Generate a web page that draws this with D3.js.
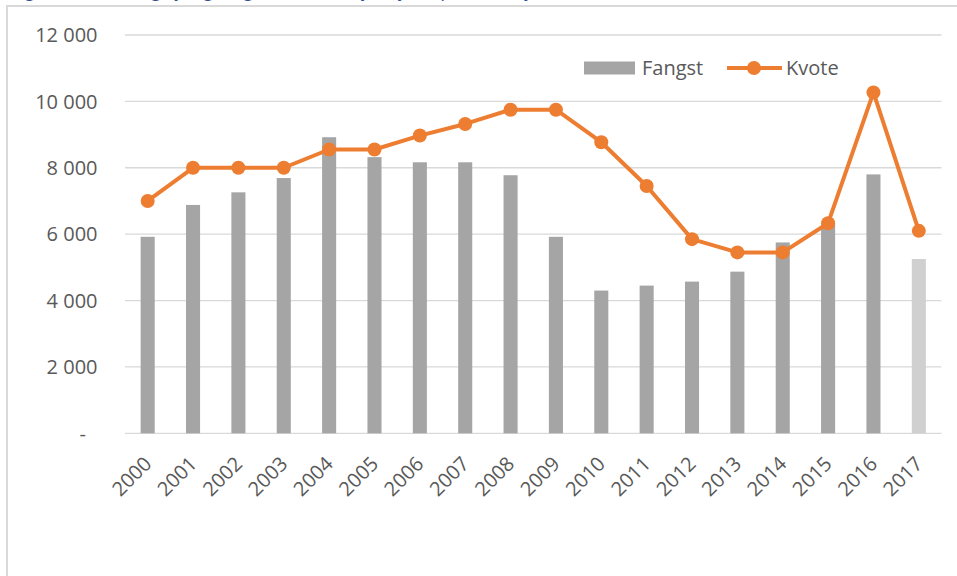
<!DOCTYPE html>
<html>
<head>
<meta charset="utf-8">
<script src="https://d3js.org/d3.v7.min.js"></script>
<style>
body { margin: 0; background: #fff; }
text { font-family: "Open Sans", sans-serif; }
</style>
</head>
<body>
<div id="chart"></div>
<script>
// data
var years = ["2000","2001","2002","2003","2004","2005","2006","2007","2008",
	"2009","2010","2011","2012","2013","2014","2015","2016","2017"];
var fangst = [5920, 6880, 7260, 7690, 8920, 8320, 8165, 8165, 7775,
	5920, 4300, 4450, 4570, 4870, 5750, 6300, 7800, 5250];
var kvote = [7000, 8000, 8000, 8000, 8550, 8550, 8970, 9320, 9750,
	9750, 8770, 7450, 5850, 5450, 5450, 6330, 10270, 6100];
var foreloepig = ["2017"];
var yTicks = [0, 2000, 4000, 6000, 8000, 10000, 12000];
var seriesNames = ["Fangst", "Kvote"];
var titleText = "Figur 5.3 Utvikling i fangst og kvote (tonn) for sjøkreps i Nordsjøen";

var width = 957;
var height = 576;
var barColor = "#a5a5a5";
var lightBarColor = "#d0d0d0";
var lineColor = "#ed7d31";
var gridColor = "#d9d9d9";
var textColor = "#595959";

var svg = d3.select("#chart").append("svg")
.attr("width", width)
.attr("height", height);

svg.append("rect")
.attr("width", width)
.attr("height", height)
.attr("fill", "#fff");

// caption above the chart, only its descenders reach into the window
svg.append("text")
.attr("x", 12)
.attr("y", -3)
.attr("fill", "#2f4f8f")
.style("font-style", "italic")
.style("font-size", "19px")
.text(titleText);

// chart frame (only top and left edge are inside the window)
svg.append("path")
.attr("d", "M7," + height + "V6H" + width)
.attr("fill", "none")
.attr("stroke", gridColor)
.attr("stroke-width", 2);

var x = d3.scaleBand()
.domain(years)
.range([125, 941.5])
.paddingInner(0.69)
.paddingOuter(0.345);

var y = d3.scaleLinear()
.domain([0, 12000])
.range([433.3, 35]);

var nb = d3.formatLocale({decimal: ",", thousands: " ", grouping: [3], currency: ["", ""]});
var fmt = nb.format(",.0f");

//gridlines
svg.append("g")
.selectAll("line")
.data(yTicks)
.enter().append("line")
.attr("x1", 125)
.attr("x2", 941.5)
.attr("y1", function(d){ return y(d); })
.attr("y2", function(d){ return y(d); })
.attr("stroke", gridColor)
.attr("stroke-width", 1.3);

//y labels, zero shows as a dash
svg.append("g")
.selectAll("text")
.data(yTicks)
.enter().append("text")
.attr("x", function(d){ return d === 0 ? 86 : 97.5; })
.attr("y", function(d){ return y(d); })
.attr("dy", "0.36em")
.attr("text-anchor", "end")
.attr("fill", textColor)
.style("font-size", "20px")
.text(function(d){ return d === 0 ? "-" : fmt(d); });

//bars
svg.append("g")
.selectAll("rect")
.data(years)
.enter().append("rect")
.attr("x", function(d){ return x(d); })
.attr("width", x.bandwidth())
.attr("y", function(d, i){ return y(fangst[i]); })
.attr("height", function(d, i){ return y(0) - y(fangst[i]); })
.attr("fill", function(d){ return foreloepig.indexOf(d) >= 0 ? lightBarColor : barColor; });

//x labels
svg.append("g")
.selectAll("text")
.data(years)
.enter().append("text")
.attr("transform", function(d){ return "translate(" + (x(d) + x.bandwidth() / 2) + ",460) rotate(-45)"; })
.attr("dy", "0.36em")
.attr("text-anchor", "end")
.attr("fill", textColor)
.style("font-size", "20px")
.text(function(d){ return d; });

//kvote line
var line = d3.line()
.x(function(d, i){ return x(years[i]) + x.bandwidth() / 2; })
.y(function(d){ return y(d); });

svg.append("path")
.datum(kvote)
.attr("d", line)
.attr("fill", "none")
.attr("stroke", lineColor)
.attr("stroke-width", 4)
.attr("stroke-linejoin", "round");

svg.append("g")
.selectAll("circle")
.data(kvote)
.enter().append("circle")
.attr("cx", function(d, i){ return x(years[i]) + x.bandwidth() / 2; })
.attr("cy", function(d){ return y(d); })
.attr("r", 7)
.attr("fill", lineColor);

//legend
var legend = svg.append("g").attr("transform", "translate(584,68)");

legend.append("rect")
.attr("x", 0)
.attr("y", -6.5)
.attr("width", 51)
.attr("height", 13)
.attr("fill", barColor);

legend.append("text")
.attr("x", 58)
.attr("dy", "0.36em")
.attr("fill", textColor)
.style("font-size", "20px")
.text(seriesNames[0]);

legend.append("line")
.attr("x1", 143)
.attr("x2", 198)
.attr("stroke", lineColor)
.attr("stroke-width", 4);

legend.append("circle")
.attr("cx", 170)
.attr("r", 7)
.attr("fill", lineColor);

legend.append("text")
.attr("x", 202)
.attr("dy", "0.36em")
.attr("fill", textColor)
.style("font-size", "20px")
.text(seriesNames[1]);
</script>
</body>
</html>
